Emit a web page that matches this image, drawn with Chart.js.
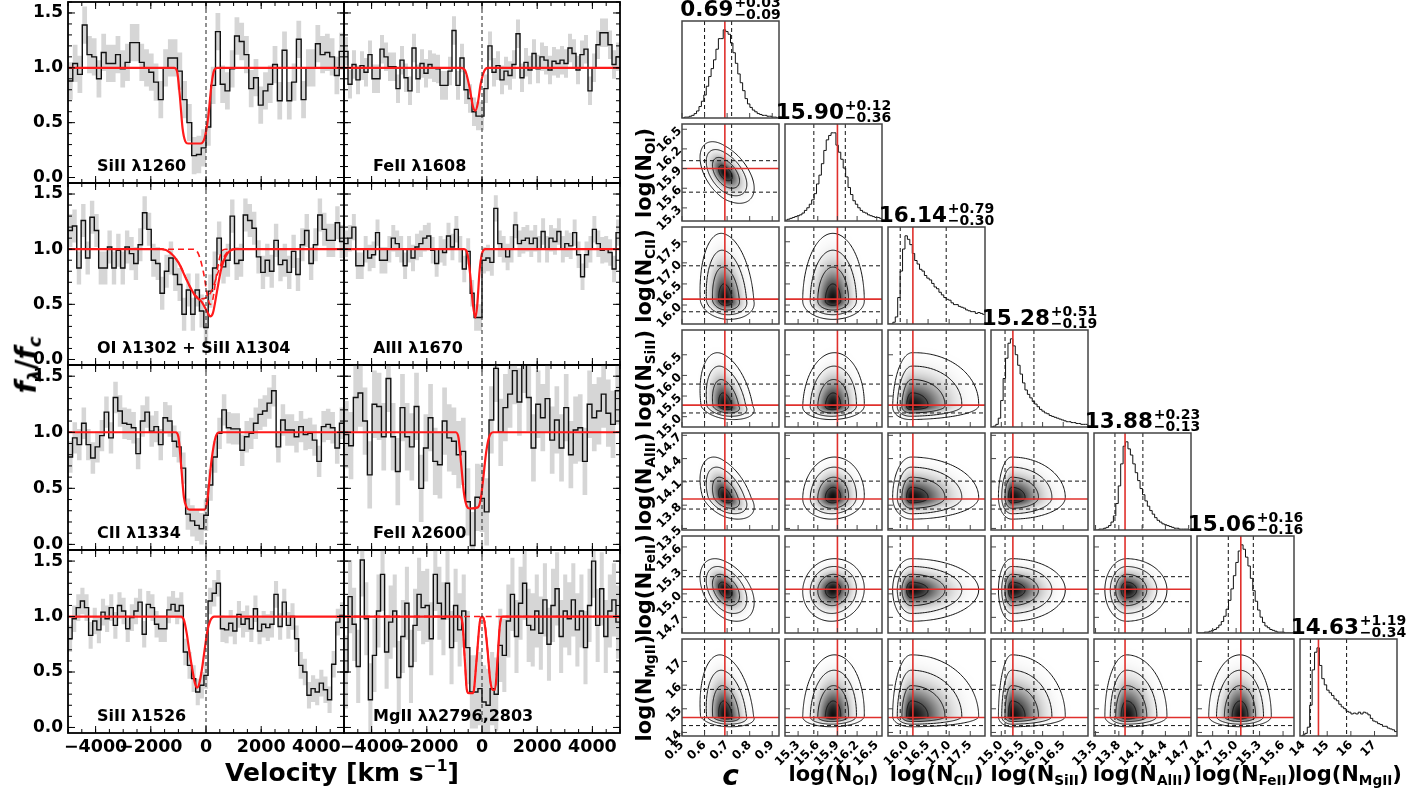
<!DOCTYPE html>
<html>
<head>
<meta charset="utf-8">
<title>Absorption lines and column density posteriors</title>
<script src="https://cdn.jsdelivr.net/npm/chart.js@4.4.1/dist/chart.umd.min.js"></script>
<style>
  body { margin: 0; background: #fff; }
  #fig { position: relative; width: 1409px; height: 789px; overflow: hidden; background: #fff;
         font-family: "DejaVu Sans", sans-serif; font-weight: bold; color: #000; }
  #fig canvas { position: absolute; }
  .txt { position: absolute; white-space: nowrap; }
  .name { font-size: 16px; line-height: 18px; }
  .ttl { position: absolute; display: flex; align-items: center; transform: translateX(-50%);
         white-space: nowrap; font-size: 21.5px; line-height: 21px; }
  .ttl .pm { display: flex; flex-direction: column; font-size: 14px; line-height: 12px; margin-left: 1px; }
  .rot { transform: translate(-50%, -50%) rotate(-90deg); }
  .ctr { transform: translate(-50%, -50%); }
  sub.s { font-size: 0.65em; vertical-align: -0.25em; }
</style>
</head>
<body>
<div id="fig"></div>
<script>
// ---------- spectra (normalised flux in velocity bins) ----------
const velRange = [-5000, 5000];
const fluxRange = [-0.05, 1.6];
const velTicks = [-4000, -2000, 0, 2000, 4000];
const fluxTicks = [0, 0.5, 1.0, 1.5];

const siII1260Flux = [0.88,1.04,0.94,1.39,1.12,1.10,0.90,1.14,1.04,1.04,1.12,0.99,1.05,1.23,1.23,1.05,1.00,0.96,0.87,0.71,
  1.00,1.09,1.09,0.97,0.71,0.50,0.20,0.21,0.27,0.46,0.84,1.33,0.85,0.79,0.99,1.29,1.24,1.12,0.81,0.91,
  0.66,0.79,0.85,1.03,0.70,1.16,0.70,0.87,1.26,0.71,1.00,1.00,1.22,1.12,1.14,1.10,0.93,1.15];
const feII1608Flux = [1.15,0.85,1.03,0.89,1.02,0.96,1.12,0.90,0.90,1.17,1.10,1.01,1.01,0.81,1.07,0.91,0.79,1.18,0.90,1.04,
  0.95,1.03,1.00,0.99,0.84,0.84,0.97,1.34,0.84,1.09,0.80,0.72,0.60,0.56,0.56,0.81,1.20,0.96,1.02,0.89,
  0.97,0.93,1.03,1.31,0.91,1.05,0.98,1.13,0.99,1.10,1.07,0.98,1.06,1.04,1.07,1.04,1.18,1.13,0.98,1.12,
  1.17,0.79,1.00,1.21,1.32,1.32,1.21,1.03,1.10];
const oiSiII1304Flux = [1.17,1.21,0.83,1.26,0.92,1.29,1.17,0.83,0.83,1.02,0.83,0.99,0.83,1.02,0.96,0.87,1.04,1.33,1.18,0.90,
  0.87,0.60,0.80,0.92,0.77,0.68,0.41,0.63,0.41,0.63,0.44,0.29,0.62,0.83,1.10,0.84,0.90,1.30,0.87,0.90,
  1.31,1.26,1.19,0.93,0.79,0.90,0.80,1.08,0.86,0.90,0.79,0.98,0.77,1.04,1.17,0.87,1.04,1.31,1.18,1.08,
  1.08,1.24,1.07];
const alII1670Flux = [1.05,1.10,1.20,0.85,0.85,1.00,0.92,0.95,1.15,0.90,0.90,1.00,1.10,1.05,1.00,0.85,1.00,0.92,1.02,1.05,
  1.10,1.12,0.99,0.87,1.00,0.97,1.12,1.02,1.18,1.00,0.82,0.98,0.60,0.38,0.38,0.90,0.92,0.88,1.37,1.05,
  1.00,0.93,1.00,1.22,1.05,1.08,1.10,1.05,1.10,1.00,1.16,1.00,1.10,1.07,1.16,1.00,1.05,1.03,1.15,0.95,
  0.75,0.95,1.00,1.18,1.05,0.99,1.00,0.97,0.82,1.15];
const cII1334Flux = [0.78,0.95,0.89,1.08,0.89,0.77,0.87,0.97,1.18,0.95,1.31,1.19,1.08,1.07,1.04,0.81,1.10,1.18,1.01,1.05,
  0.89,1.13,1.10,0.92,0.87,0.68,0.27,0.21,0.17,0.14,0.26,0.53,0.78,0.99,1.20,1.04,1.03,1.03,0.84,0.96,
  0.99,1.08,1.16,1.19,1.26,1.37,0.87,1.11,1.02,1.02,0.96,1.05,0.98,0.99,0.93,0.74,1.05,1.07,1.04,0.86,1.08];
const feII2600Flux = [0.98,0.88,1.31,1.35,1.10,0.62,1.25,1.23,0.96,1.48,0.96,0.65,1.22,0.96,0.87,1.23,0.50,0.86,1.13,0.74,
  0.71,1.10,0.95,0.92,0.80,0.83,0.38,-0.01,0.42,0.41,0.29,1.11,1.57,1.00,1.22,1.34,1.55,1.27,1.65,1.31,
  0.86,1.25,1.13,1.30,0.93,1.11,0.86,1.22,0.80,1.02,1.04,0.74,1.25,1.13,1.19,1.34,1.17,1.07,1.37];
const siII1526Flux = [0.80,0.98,1.08,1.14,1.08,0.83,0.96,0.88,1.04,0.98,1.08,0.92,1.10,1.05,0.89,0.99,1.05,1.13,0.84,1.11,
  1.08,0.93,0.89,0.89,1.06,1.11,1.05,1.10,0.68,0.56,0.44,0.32,0.38,0.47,1.14,1.21,1.30,0.89,0.88,0.94,
  0.87,1.02,0.93,0.98,0.89,1.07,0.87,0.93,0.90,0.93,1.20,0.91,1.13,0.92,1.00,0.80,0.56,0.50,0.29,0.35,
  0.32,0.40,0.34,0.25,0.57,0.95,1.01];
const mgIIFlux = [0.50,1.18,0.93,0.55,1.51,0.98,0.25,0.65,1.05,1.38,0.68,0.95,1.05,0.45,0.82,1.12,0.55,0.92,1.20,1.08,
  1.10,0.80,1.38,1.12,0.98,1.30,0.72,1.10,0.88,1.05,0.72,0.32,0.32,0.35,0.23,0.20,0.35,0.30,0.74,0.65,
  0.96,1.20,0.82,1.12,1.30,0.92,0.88,1.05,0.85,1.15,0.75,1.10,1.25,0.82,1.05,0.98,1.15,0.88,1.05,0.72,
  1.10,1.50,0.92,1.25,0.82,1.05,1.15,0.95];

// 1-sigma flux error of each spectrum
const fluxErr = [0.17, 0.13, 0.15, 0.12, 0.14, 0.30, 0.12, 0.33];

// fitted models, [velocity, flux]
const siII1260Model = [[-5000,1],[-1150,1],[-1050,0.97],[-950,0.75],[-850,0.45],[-750,0.33],[-650,0.31],[-200,0.31],[-50,0.36],[80,0.55],[200,0.85],[300,0.98],[400,1],[5000,1]];
const feII1608Model = [[-5000,1],[-750,1],[-600,0.97],[-450,0.82],[-330,0.65],[-240,0.61],[-150,0.68],[-50,0.85],[80,0.97],[200,1],[5000,1]];
const oiSiII1304Model = [[-5000,1],[-1600,1],[-1300,0.97],[-1000,0.88],[-700,0.72],[-400,0.58],[-150,0.52],[50,0.43],[150,0.39],[250,0.42],[400,0.62],[550,0.82],[700,0.93],[900,0.99],[1100,1],[5000,1]];
const oi1302Part = [[-5000,1],[-1600,1],[-1000,0.88],[-500,0.62],[-200,0.55],[0,0.56],[200,0.62],[450,0.8],[700,0.95],[1000,1],[5000,1]];
const siII1304Part = [[-5000,1],[-500,1],[-300,0.97],[-100,0.8],[50,0.58],[150,0.5],[250,0.55],[400,0.8],[550,0.97],[700,1],[5000,1]];
const alII1670Model = [[-5000,1],[-650,1],[-520,0.95],[-420,0.75],[-330,0.5],[-240,0.38],[-170,0.5],[-90,0.8],[0,0.96],[120,1],[5000,1]];
const cII1334Model = [[-5000,1],[-1100,1],[-1000,0.96],[-900,0.7],[-800,0.42],[-700,0.33],[-600,0.31],[-50,0.31],[50,0.4],[200,0.75],[350,0.96],[500,1],[5000,1]];
const feII2600Model = [[-5000,1],[-950,1],[-850,0.95],[-750,0.7],[-650,0.45],[-550,0.34],[-450,0.32],[-150,0.33],[-50,0.4],[50,0.6],[150,0.82],[250,0.95],[400,1],[5000,1]];
const siII1526Model = [[-5000,1],[-900,1],[-800,0.97],[-700,0.85],[-600,0.68],[-500,0.53],[-400,0.4],[-320,0.36],[-250,0.39],[-150,0.52],[-50,0.7],[50,0.87],[150,0.96],[300,1],[5000,1]];
const mgIIModel = [[-5000,1],[-800,1],[-700,0.92],[-620,0.6],[-550,0.34],[-480,0.31],[-320,0.31],[-200,0.6],[-80,0.95],[0,1],[80,0.96],[200,0.7],[300,0.42],[380,0.34],[470,0.34],[560,0.6],[640,0.9],[720,1],[5000,1]];
const mgII2796Part = [[-5000,1],[-800,1],[-700,0.92],[-620,0.6],[-550,0.34],[-480,0.31],[-320,0.31],[-200,0.6],[-80,0.95],[0,1],[5000,1]];
const mgII2803Part = [[-5000,1],[0,1],[100,0.95],[200,0.7],[300,0.42],[380,0.34],[470,0.34],[560,0.6],[640,0.9],[720,1],[5000,1]];

// ---------- corner plot ----------
const paramNames = ['c', 'OI', 'CII', 'SiII', 'AlII', 'FeII', 'MgII'];
const paramMedian = [0.69, 15.90, 16.14, 15.28, 13.88, 15.06, 14.63];
const paramErrHi = [0.03, 0.12, 0.79, 0.51, 0.23, 0.16, 1.19];
const paramErrLo = [0.09, 0.36, 0.30, 0.19, 0.13, 0.16, 0.34];
const paramMin = [0.5, 15.1, 15.55, 14.75, 13.48, 14.5, 13.85];
const paramMax = [0.93, 16.58, 17.85, 17.1, 14.73, 15.74, 17.95];
const paramTicks = [[0.5,0.6,0.7,0.8,0.9],[15.3,15.6,15.9,16.2,16.5],[16.0,16.5,17.0,17.5],[15.0,15.5,16.0,16.5],
  [13.5,13.8,14.1,14.4,14.7],[14.7,15.0,15.3,15.6],[14,15,16,17]];
const tickDecimals = [1, 1, 1, 1, 1, 1, 0];

// marginal histograms (40 bins over each axis range)
const histC = [0.00,0.01,0.01,0.02,0.03,0.05,0.08,0.13,0.19,0.26,0.36,0.47,0.56,0.66,0.78,0.90,0.90,1.00,0.98,0.95,
  0.85,0.74,0.62,0.50,0.40,0.31,0.22,0.16,0.12,0.09,0.07,0.05,0.04,0.03,0.03,0.02,0.02,0.01,0.01,0.00];
const histOI = [0.01,0.02,0.03,0.04,0.05,0.06,0.07,0.09,0.12,0.15,0.19,0.24,0.31,0.42,0.52,0.65,0.80,0.92,0.97,1.00,
  1.00,0.86,0.78,0.70,0.60,0.50,0.38,0.30,0.23,0.19,0.15,0.12,0.10,0.09,0.07,0.06,0.05,0.04,0.04,0.03];
const histCII = [0.00,0.00,0.02,0.08,0.30,0.60,0.85,1.00,0.96,0.90,0.80,0.72,0.68,0.62,0.60,0.55,0.52,0.50,0.46,0.42,
  0.40,0.36,0.33,0.30,0.28,0.27,0.24,0.22,0.22,0.20,0.19,0.18,0.16,0.15,0.14,0.14,0.12,0.13,0.12,0.11];
const histSiII = [0.00,0.01,0.03,0.10,0.30,0.55,0.78,0.95,1.00,0.92,0.82,0.70,0.60,0.50,0.42,0.37,0.33,0.29,0.26,0.23,
  0.20,0.18,0.16,0.15,0.13,0.12,0.11,0.10,0.09,0.08,0.07,0.06,0.06,0.05,0.05,0.04,0.04,0.03,0.03,0.03];
const histAlII = [0.00,0.00,0.01,0.01,0.02,0.03,0.05,0.09,0.16,0.30,0.50,0.75,0.95,1.00,0.92,0.85,0.75,0.65,0.56,0.47,
  0.40,0.33,0.27,0.22,0.18,0.14,0.11,0.09,0.07,0.06,0.05,0.04,0.03,0.02,0.02,0.01,0.01,0.01,0.01,0.00];
const histFeII = [0.00,0.00,0.00,0.01,0.01,0.02,0.03,0.04,0.06,0.09,0.13,0.19,0.27,0.37,0.50,0.65,0.80,0.93,1.00,0.95,
  0.86,0.76,0.62,0.48,0.36,0.26,0.18,0.12,0.08,0.06,0.04,0.03,0.02,0.01,0.01,0.01,0.00,0.00,0.00,0.00];
const histMgII = [0.00,0.01,0.03,0.10,0.35,0.75,0.95,1.00,0.80,0.65,0.58,0.52,0.49,0.46,0.42,0.40,0.36,0.33,0.31,0.28,
  0.27,0.25,0.26,0.25,0.27,0.25,0.27,0.26,0.24,0.20,0.17,0.16,0.14,0.13,0.11,0.11,0.09,0.08,0.07,0.05];
const paramHist = [histC, histOI, histCII, histSiII, histAlII, histFeII, histMgII];

// shape of the 2d posteriors: peak, spread below and above the peak
const peak = [0.69, 15.83, 16.10, 15.25, 13.90, 15.05, 14.68];
const spreadLo = [0.055, 0.23, 0.22, 0.16, 0.14, 0.20, 0.22];
const spreadHi = [0.065, 0.24, 0.80, 0.65, 0.26, 0.20, 1.30];
// correlation of row parameter with column parameter
const corr = [
  [],
  [-0.50],
  [-0.15, 0.00],
  [-0.30, 0.05, 0.05],
  [-0.45, 0.05, 0.00, 0.00],
  [-0.40, 0.05, 0.00, 0.00, 0.00],
  [-0.20, 0.05, 0.00, 0.00, 0.00, 0.00]
];
const contourLevels = [0.5, 1.0, 1.5, 2.0];

// ---------- drawing ----------
Chart.defaults.font.family = '"DejaVu Sans", sans-serif';
Chart.defaults.font.weight = 'bold';
Chart.defaults.color = '#000';

const fig = document.getElementById('fig');
const PAD = 3;

// frame, inward ticks and reference lines
const panelFrame = {
  id: 'panelFrame',
  afterDatasetsDraw(chart, args, o) {
    const { ctx, chartArea: a } = chart;
    const xs = chart.scales.x, ys = chart.scales.y;
    ctx.save();
    (o.vlines || []).forEach(l => {
      const px = xs.getPixelForValue(l.v);
      ctx.beginPath(); ctx.setLineDash(l.dash || []); ctx.strokeStyle = l.color; ctx.lineWidth = l.width;
      ctx.moveTo(px, a.top); ctx.lineTo(px, a.bottom); ctx.stroke();
    });
    (o.hlines || []).forEach(l => {
      const py = ys.getPixelForValue(l.v);
      ctx.beginPath(); ctx.setLineDash(l.dash || []); ctx.strokeStyle = l.color; ctx.lineWidth = l.width;
      ctx.moveTo(a.left, py); ctx.lineTo(a.right, py); ctx.stroke();
    });
    ctx.setLineDash([]);
    ctx.strokeStyle = o.color; ctx.lineWidth = 1;
    const seg = (x1, y1, x2, y2) => { ctx.beginPath(); ctx.moveTo(x1, y1); ctx.lineTo(x2, y2); ctx.stroke(); };
    const xt = (vals, len) => vals.forEach(v => {
      const px = xs.getPixelForValue(v);
      if (px < a.left || px > a.right) return;
      seg(px, a.bottom, px, a.bottom - len);
      if (o.allSides) seg(px, a.top, px, a.top + len);
    });
    const yt = (vals, len) => vals.forEach(v => {
      const py = ys.getPixelForValue(v);
      if (py < a.top || py > a.bottom) return;
      seg(a.left, py, a.left + len, py);
      if (o.allSides) seg(a.right, py, a.right - len, py);
    });
    xt(o.xMajor || [], o.majorLen); xt(o.xMinor || [], o.minorLen);
    yt(o.yMajor || [], o.majorLen); yt(o.yMinor || [], o.minorLen);
    ctx.lineWidth = o.width;
    ctx.strokeRect(a.left, a.top, a.width, a.height);
    ctx.restore();
  }
};

// grey density image behind the contours
const densityShade = {
  id: 'densityShade',
  beforeDatasetsDraw(chart, args, o) {
    if (!o.density) return;
    const { ctx, chartArea: a } = chart;
    const xs = chart.scales.x, ys = chart.scales.y;
    const w = Math.round(a.width), h = Math.round(a.height);
    const img = ctx.createImageData(w, h);
    for (let py = 0; py < h; py++) {
      const vy = ys.getValueForPixel(a.top + py + 0.5);
      for (let px = 0; px < w; px++) {
        const vx = xs.getValueForPixel(a.left + px + 0.5);
        const g = Math.round(255 - 240 * Math.pow(o.density(vx, vy), 2.5));
        const k = 4 * (py * w + px);
        img.data[k] = img.data[k + 1] = img.data[k + 2] = g; img.data[k + 3] = 255;
      }
    }
    ctx.putImageData(img, Math.round(a.left), Math.round(a.top));
  }
};

function axis(min, max, ticks, show, size, fmt, fontSize, rotation, padding) {
  return {
    type: 'linear', min, max,
    grid: { display: false, drawTicks: false },
    border: { display: false },
    ticks: { display: show, autoSkip: false, padding, minRotation: rotation, maxRotation: rotation,
             font: { size: fontSize, weight: 'bold' }, color: '#000', callback: v => fmt(v) },
    afterBuildTicks: s => { s.ticks = ticks.map(v => ({ value: v })); },
    afterFit: s => {
      if (s.isHorizontal()) s.height = size; else s.width = size;
      s.paddingLeft = s.paddingRight = s.paddingTop = s.paddingBottom = 0;
    }
  };
}

function makeChart(box, mL, mB, datasets, scales, plugins) {
  const c = document.createElement('canvas');
  const w = box.w + mL + 2 * PAD, h = box.h + mB + 2 * PAD;
  c.width = w; c.height = h;
  c.style.left = (box.x - mL - PAD) + 'px';
  c.style.top = (box.y - PAD) + 'px';
  fig.appendChild(c);
  return new Chart(c, {
    type: 'line',
    data: { datasets },
    options: {
      responsive: false, animation: false, events: [],
      layout: { padding: PAD },
      scales,
      plugins: Object.assign({ legend: { display: false }, tooltip: { enabled: false },
                               filler: { drawTime: 'beforeDatasetsDraw' } }, plugins)
    },
    plugins: [panelFrame, densityShade]
  });
}

function addText(html, cls, x, y, style) {
  const d = document.createElement('div');
  d.className = 'txt ' + cls;
  d.innerHTML = html;
  d.style.left = x + 'px'; d.style.top = y + 'px';
  if (style) Object.assign(d.style, style);
  fig.appendChild(d);
  return d;
}

function stepPoints(values, lo, hi, shift) {
  const n = values.length, w = (hi - lo) / n;
  const pts = values.map((v, k) => ({ x: lo + k * w, y: v + shift }));
  pts.push({ x: hi, y: values[n - 1] + shift });
  return pts;
}
const toPoints = arr => arr.map(p => ({ x: p[0], y: p[1] }));
const minus = s => String(s).replace('-', '\u2212');

// ---- left: the eight absorption-line panels ----
const spectra = [
  { label: 'SiII \u03bb1260', flux: siII1260Flux, model: siII1260Model, parts: [] },
  { label: 'FeII \u03bb1608', flux: feII1608Flux, model: feII1608Model, parts: [] },
  { label: 'OI \u03bb1302 + SiII \u03bb1304', flux: oiSiII1304Flux, model: oiSiII1304Model, parts: [oi1302Part, siII1304Part] },
  { label: 'AlII \u03bb1670', flux: alII1670Flux, model: alII1670Model, parts: [] },
  { label: 'CII \u03bb1334', flux: cII1334Flux, model: cII1334Model, parts: [] },
  { label: 'FeII \u03bb2600', flux: feII2600Flux, model: feII2600Model, parts: [] },
  { label: 'SiII \u03bb1526', flux: siII1526Flux, model: siII1526Model, parts: [] },
  { label: 'MgII \u03bb\u03bb2796,2803', flux: mgIIFlux, model: mgIIModel, parts: [mgII2796Part, mgII2803Part] }
];
const specColX = [68, 344], specColW = 276;
const specRowTop = [2, 183, 365, 550], specRowBottom = [183, 365, 550, 733];
const velMinor = [], fluxMinor = [];
for (let v = velRange[0]; v <= velRange[1]; v += 500) velMinor.push(v);
for (let f = 0; f <= 16; f++) fluxMinor.push(f / 10);

spectra.forEach((s, idx) => {
  const col = idx % 2, row = Math.floor(idx / 2);
  const box = { x: specColX[col], y: specRowTop[row], w: specColW, h: specRowBottom[row] - specRowTop[row] };
  const showY = col === 0, showX = row === 3;
  const mL = showY || showX ? 44 : 0, mB = showX || showY ? 30 : 0;
  const err = fluxErr[idx];
  const ds = [];
  s.parts.forEach(p => ds.push({ data: toPoints(p), borderColor: '#ff1a1a', borderWidth: 1.6, borderDash: [6, 4],
    pointRadius: 0, cubicInterpolationMode: 'monotone', fill: false, clip: 0 }));
  ds.push({ data: toPoints(s.model), borderColor: '#ff1a1a', borderWidth: 2.2, pointRadius: 0,
    cubicInterpolationMode: 'monotone', fill: false, clip: 0 });
  ds.push({ data: stepPoints(s.flux, velRange[0], velRange[1], 0), borderColor: '#111', borderWidth: 1.4,
    pointRadius: 0, stepped: 'before', fill: false, clip: 0 });
  ds.push({ data: stepPoints(s.flux, velRange[0], velRange[1], err), borderWidth: 0, pointRadius: 0,
    stepped: 'before', fill: '+1', backgroundColor: '#d6d6d6', clip: 0 });
  ds.push({ data: stepPoints(s.flux, velRange[0], velRange[1], -err), borderWidth: 0, pointRadius: 0,
    stepped: 'before', fill: false, clip: 0 });
  makeChart(box, mL, mB, ds, {
    x: axis(velRange[0], velRange[1], velTicks, showX, mB, minus, 17.5, 0, 4),
    y: axis(fluxRange[0], fluxRange[1], fluxTicks, showY, mL, v => v.toFixed(1), 17, 0, 5)
  }, {
    panelFrame: { color: '#000', width: 1.8, allSides: true, majorLen: 7, minorLen: 4,
      xMajor: velTicks, xMinor: velMinor, yMajor: fluxTicks, yMinor: fluxMinor,
      vlines: [{ v: 0, color: '#222', width: 1, dash: [4, 3] }] }
  });
  addText(s.label, 'name', box.x + 29, box.y + box.h - 26);
});

addText('<i>f</i><sub class="s"><i>\u03bb</i></sub>/<i>f</i><sub class="s"><i>c</i></sub>', 'rot', 27, 365,
  { fontSize: '28px' });
addText('Velocity [km s<sup style="font-size:0.62em">\u22121</sup>]', 'ctr', 342, 772, { fontSize: '25px' });

// ---- right: corner plot ----
const cornerX0 = 682, cornerY0 = 21, cornerStep = 103, cornerSize = 97;
const cornerRed = '#e0302c';
const quantiles = i => [paramMedian[i] - paramErrLo[i], paramMedian[i] + paramErrHi[i]];

function jointDensity(j, i) {
  const r = corr[i][j];
  return (vx, vy) => {
    const u = (vx - peak[j]) / (vx > peak[j] ? spreadHi[j] : spreadLo[j]);
    const v = (vy - peak[i]) / (vy > peak[i] ? spreadHi[i] : spreadLo[i]);
    return Math.exp(-0.5 * (u * u - 2 * r * u * v + v * v) / (1 - r * r));
  };
}
function contour(j, i, level) {
  const r = corr[i][j], s = Math.sqrt(1 - r * r), pts = [];
  for (let k = 0; k <= 96; k++) {
    const t = 2 * Math.PI * k / 96;
    const u = level * Math.cos(t), v = level * (r * Math.cos(t) + s * Math.sin(t));
    pts.push({ x: peak[j] + u * (u > 0 ? spreadHi[j] : spreadLo[j]),
               y: peak[i] + v * (v > 0 ? spreadHi[i] : spreadLo[i]) });
  }
  return pts;
}

for (let i = 0; i < paramNames.length; i++) {
  for (let j = 0; j <= i; j++) {
    const box = { x: cornerX0 + j * cornerStep, y: cornerY0 + i * cornerStep, w: cornerSize, h: cornerSize };
    const showX = i === paramNames.length - 1, showY = j === 0 && i > 0;
    // outer canvases get extra room on both sides so no rotated label is cut
    const mL = showY || showX ? 36 : 0, mB = showX || showY ? 36 : 0;
    const qx = quantiles(j);
    const xScale = axis(paramMin[j], paramMax[j], paramTicks[j], showX, mB, v => v.toFixed(tickDecimals[j]), 12, 45, 2);
    const dash = { color: '#111', width: 1, dash: [4, 3] };
    const vlines = [Object.assign({ v: qx[0] }, dash), Object.assign({ v: qx[1] }, dash),
                    { v: paramMedian[j], color: cornerRed, width: 1.6 }];
    if (i === j) {
      const hist = paramHist[i];
      makeChart(box, mL, mB, [{ data: stepPoints(hist, paramMin[i], paramMax[i], 0), borderColor: '#111',
        borderWidth: 1, pointRadius: 0, stepped: 'before', fill: false, clip: 0 }], {
        x: xScale,
        y: axis(0, Math.max(...hist) * 1.1, [], false, mL, v => v, 12, 0, 2)
      }, {
        panelFrame: { color: '#444', width: 1.5, allSides: false, majorLen: 5, minorLen: 0,
          xMajor: paramTicks[j], vlines }
      });
      const sup = '+' + paramErrHi[i].toFixed(2), sub = '\u2212' + paramErrLo[i].toFixed(2);
      const t = document.createElement('div');
      t.className = 'ttl';
      t.innerHTML = paramMedian[i].toFixed(2) + '<span class="pm"><span>' + sup + '</span><span>' + sub + '</span></span>';
      t.style.left = (box.x + box.w / 2) + 'px';
      t.style.top = (box.y - 25) + 'px';
      fig.appendChild(t);
    } else {
      const qy = quantiles(i);
      const ds = contourLevels.map(l => ({ data: contour(j, i, l), borderColor: '#111', borderWidth: 1,
        pointRadius: 0, tension: 0.2, fill: false, clip: 0 }));
      makeChart(box, mL, mB, ds, {
        x: xScale,
        y: axis(paramMin[i], paramMax[i], paramTicks[i], showY, mL, v => v.toFixed(tickDecimals[i]), 12, 45, 2)
      }, {
        densityShade: { density: jointDensity(j, i) },
        panelFrame: { color: '#444', width: 1.5, allSides: false, majorLen: 5, minorLen: 0,
          xMajor: paramTicks[j], yMajor: paramTicks[i], vlines,
          hlines: [Object.assign({ v: qy[0] }, dash), Object.assign({ v: qy[1] }, dash),
                   { v: paramMedian[i], color: cornerRed, width: 1.6 }] }
      });
    }
  }
}

// axis names of the corner plot
paramNames.forEach((n, k) => {
  const html = k === 0 ? '<i>c</i>' : 'log(N<sub class="s">' + n + '</sub>)';
  const cx = cornerX0 + k * cornerStep + cornerSize / 2;
  addText(html, 'ctr', cx, 775, { fontSize: k === 0 ? '28px' : '21px' });
  if (k > 0) addText(html, 'rot', 645, cornerY0 + k * cornerStep + cornerSize / 2, { fontSize: '21px' });
});
</script>
</body>
</html>
